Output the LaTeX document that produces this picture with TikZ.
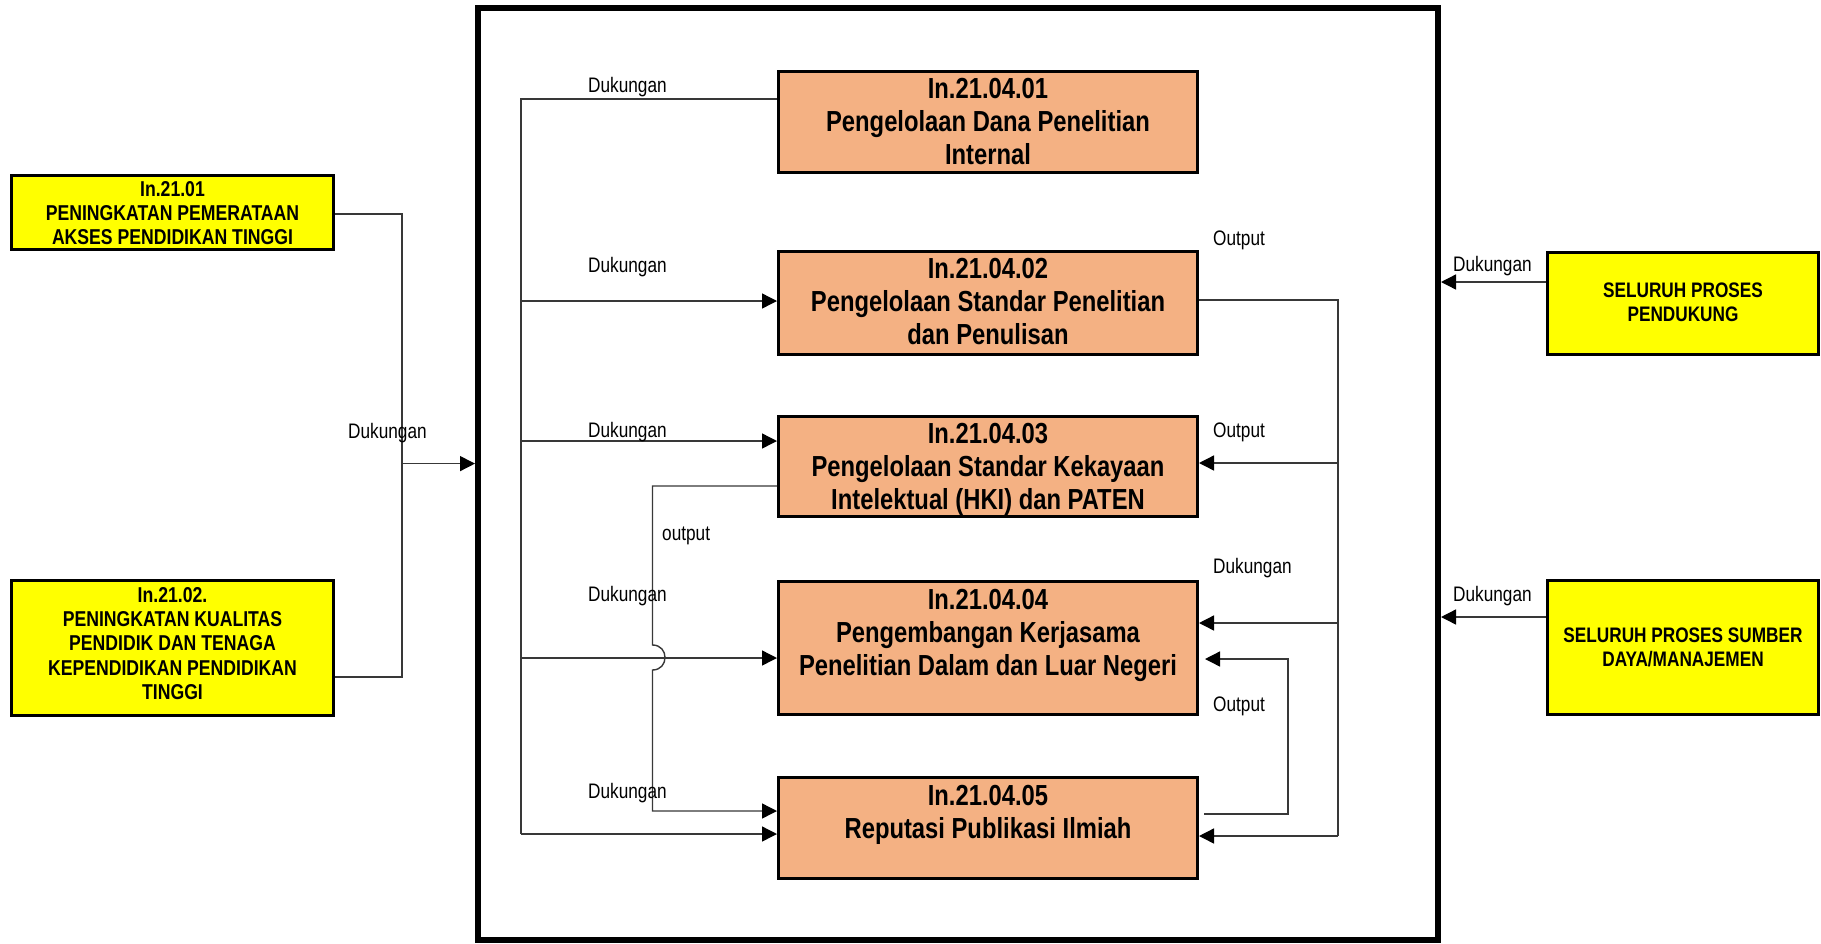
\documentclass[tikz,border=0pt]{standalone}
\usepackage{fontspec}
\setmainfont{Liberation Sans}
\newfontfamily\nar[FakeStretch=0.82]{Liberation Sans}
\usetikzlibrary{arrows.meta}
\definecolor{procfill}{HTML}{F4B183}
\definecolor{extfill}{HTML}{FFFF00}

\begin{document}
\begin{tikzpicture}[x=1pt,y=-1pt,
  ln/.style={draw=black!78,line width=1.4pt},
  arr/.style={ln,-{Triangle[length=15pt,width=15pt,color=black,fill=black]}},
  frame/.style={draw=black,line width=6pt,inner sep=0pt},
  procbox/.style={draw=black,line width=3.3pt,fill=procfill,inner sep=0pt,minimum width=418.7pt},
  extbox/.style={draw=black,line width=3.3pt,fill=extfill,inner sep=0pt},
  proctext/.style={anchor=north,inner sep=0pt,align=center,font=\nar\bfseries\fontsize{29}{33}\selectfont},
  lexttext/.style={anchor=north,inner sep=0pt,align=center,font=\nar\bfseries\fontsize{21.5}{24.3}\selectfont},
  rexttext/.style={anchor=north,inner sep=0pt,align=center,font=\nar\bfseries\fontsize{21}{24}\selectfont},
  lbl/.style={anchor=base west,inner sep=0pt,font=\nar\fontsize{21}{24}\selectfont}
]
\useasboundingbox (0,0) rectangle (1821,943);

% outer frame of the research process group
\node[frame,minimum width=960pt,minimum height=932pt] (frame) at (958,474) {};

% process boxes
\node[procbox,minimum height=100.7pt] (b1) at (988,122) {};
\node[procbox,minimum height=102.7pt] (b2) at (988,303) {};
\node[procbox,minimum height=99.7pt]  (b3) at (988,466.5) {};
\node[procbox,minimum height=132.7pt] (b4) at (988,648) {};
\node[procbox,minimum height=100.7pt] (b5) at (988,828) {};

\node[proctext] (t1) at (988,78.5) {In.21.04.01\\Pengelolaan Dana Penelitian\\Internal};
\node[proctext] (t2) at (988,258) {In.21.04.02\\Pengelolaan Standar Penelitian\\dan Penulisan};
\node[proctext] (t3) at (988,423) {In.21.04.03\\Pengelolaan Standar Kekayaan\\Intelektual (HKI) dan PATEN};
\node[proctext] (t4) at (988,589) {In.21.04.04\\Pengembangan Kerjasama\\Penelitian Dalam dan Luar Negeri};
\node[proctext] (t5) at (988,785) {In.21.04.05\\Reputasi Publikasi Ilmiah};

% external boxes, left
\node[extbox,minimum width=321.7pt,minimum height=74.1pt]  (y1) at (172.5,212.3) {};
\node[extbox,minimum width=321.7pt,minimum height=135.1pt] (y2) at (172.5,647.8) {};
\node[lexttext] (ty1) at (172.5,181) {In.21.01\\PENINGKATAN PEMERATAAN\\AKSES PENDIDIKAN TINGGI};
\node[lexttext] (ty2) at (172.5,587) {In.21.02.\\PENINGKATAN KUALITAS\\PENDIDIK DAN TENAGA\\KEPENDIDIKAN PENDIDIKAN\\TINGGI};

% external boxes, right
\node[extbox,minimum width=270.7pt,minimum height=101.7pt] (r1) at (1683,303.5) {};
\node[extbox,minimum width=270.7pt,minimum height=133.7pt] (r2) at (1683,647.5) {};
\node[rexttext] (tr1) at (1683,283) {SELURUH PROSES\\PENDUKUNG};
\node[rexttext] (tr2) at (1683,628) {SELURUH PROSES SUMBER\\DAYA/MANAJEMEN};

% left inputs into the frame
\coordinate (lj) at (402,463.6);
\draw[ln] (y1.east |- 0,214) -- (lj |- 0,214) -- (lj |- 0,677) -- (y2.east |- 0,677);
\draw[arr] (lj) -- (frame.west |- lj);

% right inputs into the frame
\draw[arr] (r1.west |- 0,282) -- (frame.east |- 0,282);
\draw[arr] (r2.west |- 0,617) -- (frame.east |- 0,617);

% support bus on the left
\coordinate (lbTop) at (521,99);
\coordinate (lbBot) at (521,834);
\draw[ln] (b1.west |- lbTop) -- (lbTop) -- (lbBot);
\draw[arr] (lbTop |- 0,301) -- (b2.west |- 0,301);
\draw[arr] (lbTop |- 0,441) -- (b3.west |- 0,441);
\draw[arr] (lbTop |- 0,658) -- (b4.west |- 0,658);
\draw[arr] (lbBot) -- (b5.west |- lbBot);

% output of box 3 into box 5, hopping over the box 4 line
\coordinate (oj) at (652.5,486);
\draw[arr] (b3.west |- oj) -- (oj) -- (652.5,645)
  .. controls (669.2,645) and (669.2,670) .. (652.5,670)
  -- (652.5,811) -- (b5.west |- 0,811);

% output bus on the right
\coordinate (rbTop) at (1338,300);
\coordinate (rbBot) at (1338,836);
\draw[ln] (b2.east |- rbTop) -- (rbTop) -- (rbBot);
\draw[arr] (rbTop |- 0,463) -- (b3.east |- 0,463);
\draw[arr] (rbTop |- 0,623) -- (b4.east |- 0,623);
\draw[arr] (rbBot) -- (b5.east |- rbBot);

% output of box 5 back into box 4
\coordinate (lp) at (1288,814);
\draw[arr,shorten <=5pt,shorten >=6pt] (b5.east |- lp) -- (lp) -- (lp |- 0,659) -- (b4.east |- 0,659);

% labels
\node[lbl] (d1) at (588,92) {Dukungan};
\node[lbl] (d2) at (588,272) {Dukungan};
\node[lbl] (d3) at (588,437) {Dukungan};
\node[lbl] (d4) at (588,601) {Dukungan};
\node[lbl] (d5) at (588,798) {Dukungan};
\node[lbl] (d0) at (348,438) {Dukungan};
\node[lbl] (o0) at (662,540) {output};
\node[lbl] (o1) at (1213,245) {Output};
\node[lbl] (o2) at (1213,437) {Output};
\node[lbl] (d6) at (1213,573) {Dukungan};
\node[lbl] (o3) at (1213,711) {Output};
\node[lbl] (d7) at (1453,271) {Dukungan};
\node[lbl] (d8) at (1453,601) {Dukungan};
\end{tikzpicture}
\end{document}
